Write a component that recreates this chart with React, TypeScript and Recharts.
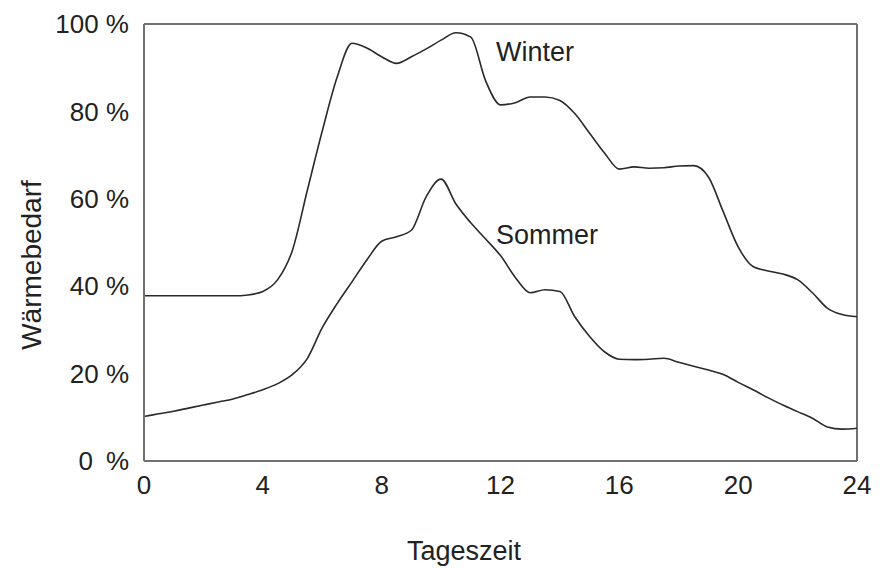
import React from 'react'
import { LineChart, Line, XAxis, YAxis, ReferenceLine, ReferenceDot, Label } from 'recharts'

// time of day in hours
const hours = [
  0, 0.5, 1, 1.5, 2, 2.5, 3, 3.5, 4, 4.5, 5, 5.5, 6, 6.5, 7, 7.5, 8, 8.5, 9, 9.5, 10, 10.5, 11, 11.5,
  12, 12.5, 13, 13.5, 14, 14.5, 15, 15.5, 16, 16.5, 17, 17.5, 18, 18.5, 19, 19.5, 20, 20.5, 21, 21.5,
  22, 22.5, 23, 23.5, 24,
]

// Wärmebedarf in %
const winter = [
  37.8, 37.8, 37.8, 37.8, 37.8, 37.8, 37.8, 38, 38.8, 41.5, 48.3, 62, 75.5, 87.8, 95.6, 94.5, 92.5, 91,
  92.5, 94.3, 96.3, 98, 97, 87, 81.5, 82, 83.3, 83.3, 82.5, 79.5, 75, 70.5, 66.8, 67.3, 67, 67.1, 67.5,
  67.6, 65, 57, 49, 44.5, 43.5, 42.8, 41.5, 38.5, 35, 33.5, 33,
]

const summer = [
  10.2, 10.8, 11.4, 12.1, 12.8, 13.5, 14.2, 15.2, 16.3, 17.7, 19.8, 23.5, 30.5, 36, 41, 46, 50.3, 51.3,
  52.8, 60.5, 64.5, 58.8, 54.5, 50.8, 47, 42, 38.5, 39.2, 38.8, 33, 28.5, 25, 23.3, 23.2, 23.3, 23.5,
  22.6, 21.7, 20.8, 19.8, 18, 16.3, 14.5, 12.8, 11.3, 9.8, 7.8, 7.3, 7.5,
]

const xTicks = [0, 4, 8, 12, 16, 20, 24]
const yTicks = [0, 20, 40, 60, 80, 100]
const yTickLabels = ['0\u2002%', '20 %', '40 %', '60 %', '80 %', '100 %']

const data = hours.map((t, i) => ({ t, winter: winter[i], summer: summer[i] }))

const frame = '#707070'
const ink = '#222'

export default function App() {
  return (
    <div
      style={{
        position: 'absolute',
        left: 0,
        top: 0,
        width: 888,
        height: 568,
        background: '#fff',
        fontFamily: '"Liberation Sans", Arial, sans-serif',
      }}
    >
      <LineChart width={888} height={568} data={data} margin={{ top: 24, right: 31, bottom: 0, left: 0 }}>
        <XAxis
          dataKey="t"
          type="number"
          domain={[0, 24]}
          ticks={xTicks}
          height={107}
          tickSize={0}
          tickMargin={15}
          tickLine={false}
          axisLine={{ stroke: frame, strokeWidth: 2 }}
          tick={{ fill: ink, fontSize: 26 }}
        >
          <Label
            content={() => (
              <text x={464} y={560} textAnchor="middle" fill={ink} fontSize={27}>
                Tageszeit
              </text>
            )}
          />
        </XAxis>
        <YAxis
          type="number"
          domain={[0, 100]}
          ticks={yTicks}
          width={144}
          tickSize={0}
          tickMargin={15}
          tickLine={false}
          axisLine={{ stroke: frame, strokeWidth: 2 }}
          tick={{ fill: ink, fontSize: 26 }}
          tickFormatter={(v: number) => yTickLabels[yTicks.indexOf(v)]}
        >
          <Label
            content={() => (
              <text
                x={41}
                y={265}
                textAnchor="middle"
                fill={ink}
                fontSize={28}
                transform="rotate(-90 41 265)"
              >
                Wärmebedarf
              </text>
            )}
          />
        </YAxis>
        <ReferenceLine y={100} stroke={frame} strokeWidth={2} />
        <ReferenceLine x={24} stroke={frame} strokeWidth={2} />
        <Line
          type="monotone"
          dataKey="winter"
          stroke="#2a2a2a"
          strokeWidth={1.6}
          dot={false}
          activeDot={false}
          isAnimationActive={false}
        />
        <Line
          type="monotone"
          dataKey="summer"
          stroke="#2a2a2a"
          strokeWidth={1.6}
          dot={false}
          activeDot={false}
          isAnimationActive={false}
        />
        <ReferenceDot
          x={11.85}
          y={93.7}
          r={0}
          stroke="none"
          fill="none"
          label={{ value: 'Winter', position: 'right', offset: 0, fill: ink, fontSize: 27 }}
        />
        <ReferenceDot
          x={11.85}
          y={51.9}
          r={0}
          stroke="none"
          fill="none"
          label={{ value: 'Sommer', position: 'right', offset: 0, fill: ink, fontSize: 27 }}
        />
      </LineChart>
    </div>
  )
}
